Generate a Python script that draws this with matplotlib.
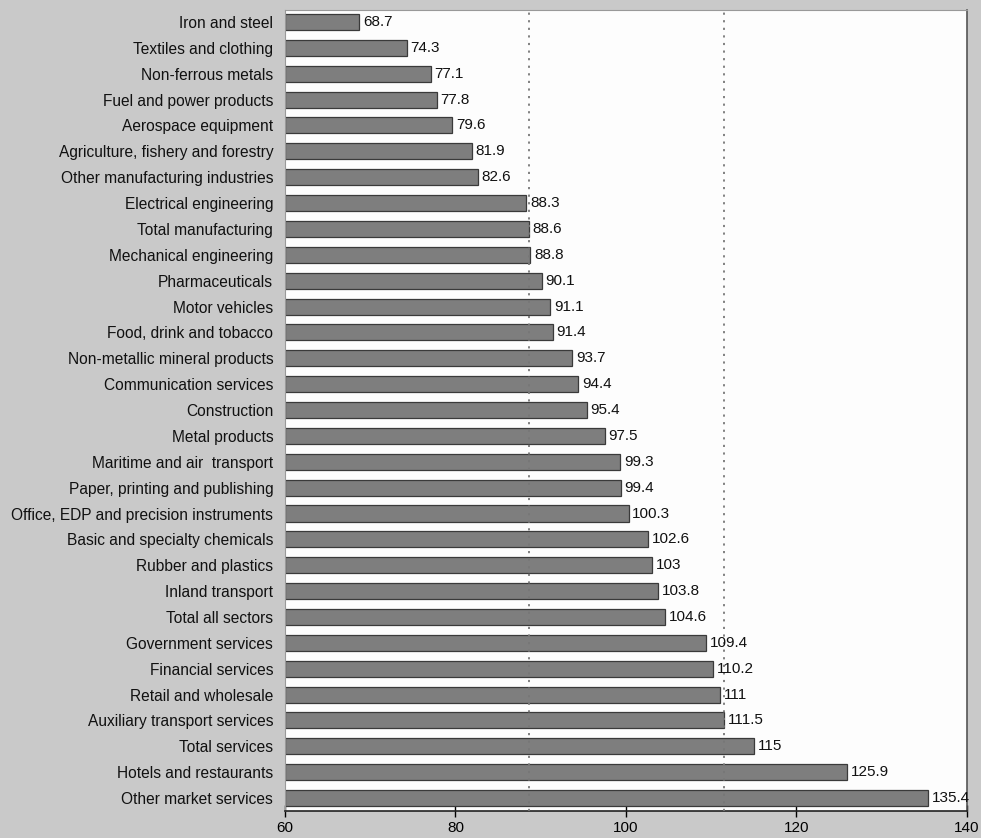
import matplotlib
matplotlib.use('Agg')
import matplotlib.pyplot as plt

# sectors, top to bottom as drawn
sectors = [
  'Iron and steel', 'Textiles and clothing', 'Non-ferrous metals', 'Fuel and power products',
  'Aerospace equipment', 'Agriculture, fishery and forestry', 'Other manufacturing industries',
  'Electrical engineering', 'Total manufacturing', 'Mechanical engineering', 'Pharmaceuticals',
  'Motor vehicles', 'Food, drink and tobacco', 'Non-metallic mineral products',
  'Communication services', 'Construction', 'Metal products', 'Maritime and air  transport',
  'Paper, printing and publishing', 'Office, EDP and precision instruments',
  'Basic and specialty chemicals', 'Rubber and plastics', 'Inland transport', 'Total all sectors',
  'Government services', 'Financial services', 'Retail and wholesale',
  'Auxiliary transport services', 'Total services', 'Hotels and restaurants', 'Other market services',
]
values = [68.7, 74.3, 77.1, 77.8, 79.6, 81.9, 82.6, 88.3, 88.6, 88.8, 90.1, 91.1, 91.4, 93.7,
          94.4, 95.4, 97.5, 99.3, 99.4, 100.3, 102.6, 103, 103.8, 104.6, 109.4, 110.2, 111,
          111.5, 115, 125.9, 135.4]
value_labels = ['68.7', '74.3', '77.1', '77.8', '79.6', '81.9', '82.6', '88.3', '88.6', '88.8',
                '90.1', '91.1', '91.4', '93.7', '94.4', '95.4', '97.5', '99.3', '99.4', '100.3',
                '102.6', '103', '103.8', '104.6', '109.4', '110.2', '111', '111.5', '115',
                '125.9', '135.4']
ref_lines = [88.6, 111.5]
xticks = [60, 80, 100, 120, 140]

plt.rcParams['font.family'] = ['Liberation Sans', 'DejaVu Sans']

fig = plt.figure(figsize=(9.81, 8.38), dpi=100)
fig.patch.set_facecolor('#c9c9c9')
ax = fig.add_axes([0.2905, 0.0322, 0.6952, 0.9558])
ax.set_facecolor('#fdfdfd')

pos = list(range(len(sectors)))
ax.barh(pos, [v - 60 for v in values], left=60, height=0.62,
        color='#7e7e7e', edgecolor='#3a3a3a', linewidth=0.9, zorder=2)
for p, v, lab in zip(pos, values, value_labels):
  ax.text(v + 0.45, p, lab, va='center', ha='left', fontsize=11, color='#111111', zorder=4)

for x in ref_lines:
  ax.axvline(x, color='#777777', linestyle=(0, (1.2, 3)), linewidth=1.3, zorder=3)

ax.set_xlim(60, 140)
ax.set_ylim(30.5, -0.46)
ax.set_yticks(pos)
ax.set_yticklabels(sectors, fontsize=11.2, color='#111111')
ax.set_xticks(xticks)
ax.set_xticklabels([str(t) for t in xticks], fontsize=11)
ax.tick_params(axis='y', length=0, pad=8.5)
ax.tick_params(axis='x', direction='inout', length=8, width=1, pad=3)

for s in ['left', 'top']:
  ax.spines[s].set_color('#999999')
  ax.spines[s].set_linewidth(0.8)
ax.spines['right'].set_color('#555555')
ax.spines['right'].set_linewidth(1.2)
ax.spines['bottom'].set_color('#222222')
ax.spines['bottom'].set_linewidth(1.2)

fig.savefig('out.png', dpi=100, facecolor=fig.get_facecolor())
